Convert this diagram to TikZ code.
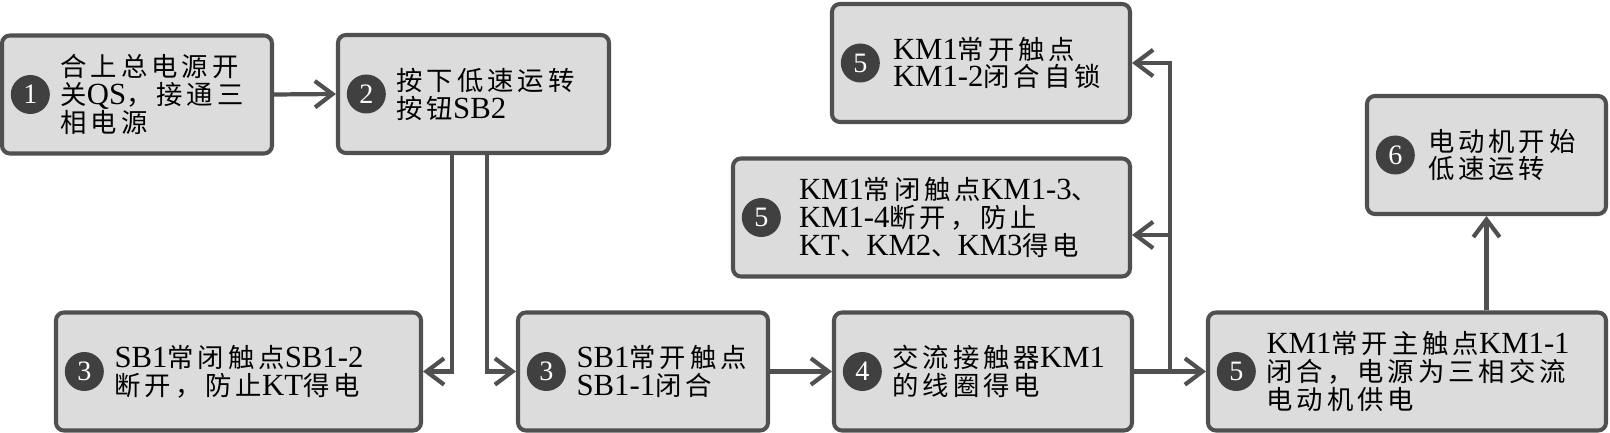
\documentclass[tikz,border=0pt]{standalone}
\usepackage{fontspec}
\setmainfont{Noto Sans CJK SC}[LetterSpace=15]
\newfontfamily\latfont{Liberation Serif}
\newcommand\en[1]{{\latfont\fontsize{17.5pt}{15.9pt}\selectfont #1}}
\usetikzlibrary{arrows.meta,positioning,calc}
\definecolor{boxfill}{RGB}{220,220,220}
\definecolor{boxline}{RGB}{80,80,80}
\definecolor{dotfill}{RGB}{64,64,64}

\begin{document}
\begin{tikzpicture}[
  stepbox/.style={draw=boxline,fill=boxfill,line width=2.3pt,rounded corners=4.5pt,minimum height=2.36cm,inner sep=0pt},
  numdot/.style={circle,fill=dotfill,text=white,minimum size=0.78cm,inner sep=0pt,font=\latfont\fontsize{16pt}{16pt}\selectfont},
  steptext/.style={align=left,inner sep=0pt,font=\fontsize{15pt}{15.9pt}\selectfont},
  flow/.style={draw=boxline,line width=2.4pt,-{Straight Barb[length=10pt,width=15pt]}},
]
  \useasboundingbox (0,0) rectangle (32.2,8.66);

  % Step 1: main switch
  \node[stepbox,minimum width=5.40cm] (b1) at (2.74,6.77) {};
  \node[numdot,right=0.21cm of b1.west] (d1) {1};
  \node[steptext,right=0.2cm of d1] (t1) {合上总电源开\\关\en{QS}，接通三\\相电源};

  % Step 2: push button
  \node[stepbox,minimum width=5.42cm] (b2) at (9.47,6.78) {};
  \node[numdot,right=0.21cm of b2.west] (d2) {2};
  \node[steptext,right=0.2cm of d2] (t2) {按下低速运转\\按钮\en{SB2}};

  % Step 3: SB1 contacts
  \node[stepbox,minimum width=7.30cm] (b3a) at (4.77,1.23) {};
  \node[numdot,right=0.21cm of b3a.west] (d3a) {3};
  \node[steptext,right=0.2cm of d3a] (t3a) {\en{SB1}常闭触点\en{SB1-2}\\断开，防止\en{KT}得电};

  \node[stepbox,minimum width=5.00cm] (b3b) at (12.86,1.23) {};
  \node[numdot,right=0.21cm of b3b.west] (d3b) {3};
  \node[steptext,right=0.2cm of d3b] (t3b) {\en{SB1}常开触点\\\en{SB1-1}闭合};

  % Step 4: coil
  \node[stepbox,minimum width=5.96cm] (b4) at (19.66,1.23) {};
  \node[numdot,right=0.21cm of b4.west] (d4) {4};
  \node[steptext,right=0.2cm of d4] (t4) {交流接触器\en{KM1}\\的线圈得电};

  % Step 5: KM1 contacts
  \node[stepbox,minimum width=5.96cm] (b5t) at (19.62,7.40) {};
  \node[numdot,right=0.21cm of b5t.west] (d5t) {5};
  \node[steptext,right=0.25cm of d5t] (t5t) {\en{KM1}常开触点\\\en{KM1-2}闭合自锁};

  \node[stepbox,minimum width=7.94cm] (b5c) at (18.63,4.31) {};
  \node[numdot,right=0.21cm of b5c.west] (d5c) {5};
  \node[steptext,right=0.35cm of d5c] (t5c) {\en{KM1}常闭触点\en{KM1-3}、\\\en{KM1-4}断开，防止\\\en{KT}、\en{KM2}、\en{KM3}得电};

  \node[stepbox,minimum width=7.96cm] (b5m) at (28.14,1.23) {};
  \node[numdot,right=0.21cm of b5m.west] (d5m) {5};
  \node[steptext,right=0.2cm of d5m] (t5m) {\en{KM1}常开主触点\en{KM1-1}\\闭合，电源为三相交流\\电动机供电};

  % Step 6: motor
  \node[stepbox,minimum width=4.78cm] (b6) at (29.73,5.56) {};
  \node[numdot,right=0.21cm of b6.west] (d6) {6};
  \node[steptext,right=0.25cm of d6] (t6) {电动机开始\\低速运转};

  % Arrows
  \draw[flow] (b1.east) -- (b2.west);
  \draw[flow] ([xshift=-0.43cm]b2.south) |- (b3a.east);
  \draw[flow] ([xshift=0.27cm]b2.south) |- (b3b.west);
  \draw[flow] (b3b.east) -- (b4.west);
  \draw[flow] (b4.east) -- (b5m.west);
  \coordinate (jn) at (23.40,1.23);
  \draw[flow] (jn) |- (b5t.east);
  \draw[flow] (jn) |- ([yshift=-0.35cm]b5c.east);
  \draw[flow] (b5m.north -| b6.south) -- (b6.south);
\end{tikzpicture}
\end{document}
